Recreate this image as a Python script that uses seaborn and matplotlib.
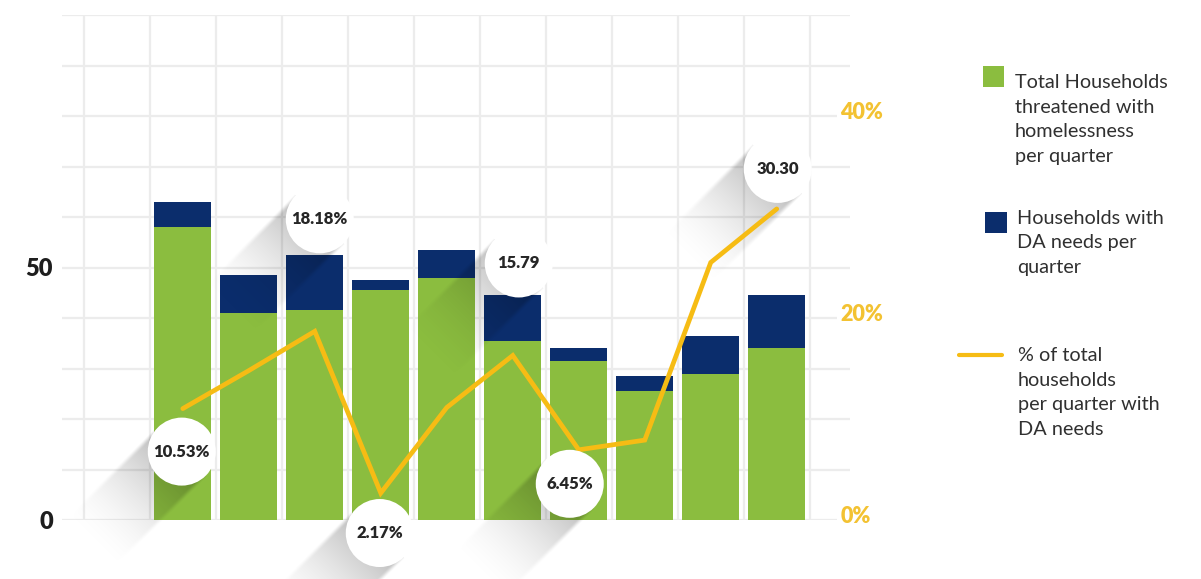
import numpy as np
import pandas as pd
import matplotlib
matplotlib.use("Agg")
import matplotlib.pyplot as plt
import matplotlib.transforms as mtransforms
from matplotlib.patches import Circle, Rectangle
from matplotlib.lines import Line2D
import seaborn as sns

# ---- data -------------------------------------------------------------
quarters = ["Q1", "Q2", "Q3", "Q4", "Q5", "Q6", "Q7", "Q8", "Q9", "Q10"]
total_households = [58, 41, 41.5, 45.5, 48, 35.5, 31.5, 25.5, 29, 34]
da_households = [5, 7.5, 11, 2, 5.5, 9, 2.5, 3, 7.5, 10.5]
da_share_pct = [10.53, 14.29, 18.18, 2.17, 10.64, 15.79, 6.45, 7.41, 25.00, 30.30]
callout_labels = ["10.53%", None, "18.18%", "2.17%", None, "15.79", "6.45%", None, None, "30.30"]
left_ticks = [0, 50]
right_ticks = [0, 20, 40]
legend_labels = [
    "Total Households\nthreatened with\nhomelessness\nper quarter",
    "Households with\nDA needs per\nquarter",
    "% of total\nhouseholds\nper quarter with\nDA needs",
]

# ---- style ------------------------------------------------------------
GREEN = "#8BBD3F"
NAVY = "#0B2D6C"
YELLOW = "#F6BC14"
TICK_YELLOW = "#F3C232"
GRID = "#ECECEC"
TEXT = "#303030"

W, H, DPI = 1201, 579, 100
sns.set_style("white")
plt.rcParams["font.family"] = ["Lato", "DejaVu Sans"]

fig = plt.figure(figsize=(W / DPI, H / DPI), dpi=DPI)
ax = fig.add_axes([62 / W, 59 / H, 788 / W, 505 / H])

df = pd.DataFrame({
    "quarter": quarters,
    "total": total_households,
    "da": da_households,
    "share": da_share_pct,
})
df["stack_top"] = df["total"] + df["da"]

# stacked bars: full stack in navy, total households drawn over it in green
sns.barplot(data=df, x="quarter", y="stack_top", color=NAVY, saturation=1,
            width=0.86, errorbar=None, edgecolor="none", ax=ax)
sns.barplot(data=df, x="quarter", y="total", color=GREEN, saturation=1,
            width=0.86, errorbar=None, edgecolor="none", ax=ax)

XLIM = (-1.83, 10.11)
ax.set_xlim(*XLIM)
ax.set_ylim(0, 100)
ax.set_xlabel("")
ax.set_ylabel("")
ax.set_xticks([])
ax.set_xticks(np.arange(-1.5, 10, 1), minor=True)
ax.set_yticks(left_ticks)
ax.set_yticklabels([str(v) for v in left_ticks])
ax.set_yticks(np.arange(0, 101, 10), minor=True)
ax.grid(True, which="both", color=GRID, lw=1.6)
ax.set_axisbelow(True)
ax.tick_params(which="both", length=0)
ax.tick_params(axis="y", pad=6.5, labelsize=17, labelcolor="#1E1E1E")
for sp in ax.spines.values():
    sp.set_visible(False)

# percentage line on the secondary axis
ax2 = ax.twinx()
sns.lineplot(x=np.arange(len(quarters)), y=da_share_pct, color=YELLOW, lw=3.4,
             solid_joinstyle="miter", ax=ax2)
ax2.set_xlim(*XLIM)
ax2.set_ylim(-0.5, 49.5)
ax2.set_yticks(right_ticks)
ax2.set_yticklabels([f"{v}%" for v in right_ticks])
ax2.tick_params(axis="y", length=0, pad=-7, labelsize=15.5, labelcolor=TICK_YELLOW)
ax2.set_ylabel("")
ax2.grid(False)
for sp in ax2.spines.values():
    sp.set_visible(False)

# ---- callout bubbles with long shadows --------------------------------
R = 34
SHADOW_LEN = 135
# bubble centre offsets from the line point, in pixels (x right, y up)
callout_offsets = [(-1, -43), None, (5, 112), (-1, -40), None, (6, 92), (-9, -34),
                   None, None, (1, 40)]
ident = mtransforms.IdentityTransform()


def smoothstep(v):
    v = np.clip(v, 0, 1)
    return v * v * (3 - 2 * v)


def long_shadow(center, r, length, a0=0.29):
    d = np.array([-1.0, -1.0]) / np.sqrt(2)
    n = np.array([1.0, -1.0]) / np.sqrt(2)
    reach = length / np.sqrt(2)
    x0 = np.floor(center[0] - reach - r - 6)
    x1 = np.ceil(center[0] + r + 6)
    y0 = np.floor(center[1] - reach - r - 6)
    y1 = np.ceil(center[1] + r + 6)
    xs = np.arange(x0, x1) + 0.5
    ys = np.arange(y0, y1) + 0.5
    X, Y = np.meshgrid(xs, ys)
    vx, vy = X - center[0], Y - center[1]
    s = vx * d[0] + vy * d[1]
    t = vx * n[0] + vy * n[1]
    edge = smoothstep((r + 2 - np.abs(t)) / 6)
    fade = np.clip(1 - s / length, 0, 1) ** 1.8
    alpha = a0 * fade * edge * (s >= 0)
    rgba = np.zeros(X.shape + (4,))
    rgba[..., 3] = alpha
    inv = ax.transData.inverted()
    dx0, dy0 = inv.transform((x0, y0))
    dx1, dy1 = inv.transform((x1, y1))
    im = ax.imshow(rgba, extent=(dx0, dx1, dy0, dy1), origin="lower",
                   aspect="auto", interpolation="bilinear", zorder=3)
    im.set_clip_on(False)


for i, (lab, off) in enumerate(zip(callout_labels, callout_offsets)):
    if lab is None:
        continue
    px, py = ax2.transData.transform((i, da_share_pct[i]))
    c = (px + off[0], py + off[1])
    long_shadow(c, R, SHADOW_LEN)
    ax2.add_patch(Circle(c, R, transform=ident, fc="white", ec="none",
                         zorder=5, clip_on=False))
    ax2.text(c[0], c[1], lab, transform=ident, ha="center", va="center",
             fontsize=12, fontweight="heavy", color="#262626", zorder=6)

ax.set_xlim(*XLIM)
ax.set_ylim(0, 100)

# heavy tick labels; right-hand ones get a white backing over the grid
for lbl in ax.get_yticklabels():
    lbl.set_fontweight("heavy")
for lbl in ax2.get_yticklabels():
    lbl.set_fontweight("heavy")
    lbl.set_bbox(dict(fc="white", ec="none", pad=2))

# ---- legend -----------------------------------------------------------
def fx(x):
    return x / W


def fy(y):
    return 1 - y / H


fig.add_artist(Rectangle((fx(983), fy(87)), 21 / W, 21 / H, transform=fig.transFigure,
                         fc=GREEN, ec="none"))
fig.add_artist(Rectangle((fx(985), fy(233)), 22 / W, 21 / H, transform=fig.transFigure,
                         fc=NAVY, ec="none"))
fig.add_artist(Line2D([fx(959), fx(1002)], [fy(355), fy(355)], transform=fig.transFigure,
                      color=YELLOW, lw=3))

legend_pos = [(1015, 119.5), (1017, 243), (1018, 392.5)]
for (x, y), txt in zip(legend_pos, legend_labels):
    fig.text(fx(x), fy(y), txt, ha="left", va="center", fontsize=14.3,
             color=TEXT, linespacing=1.54)

fig.savefig("out.png", dpi=DPI, facecolor="white")
